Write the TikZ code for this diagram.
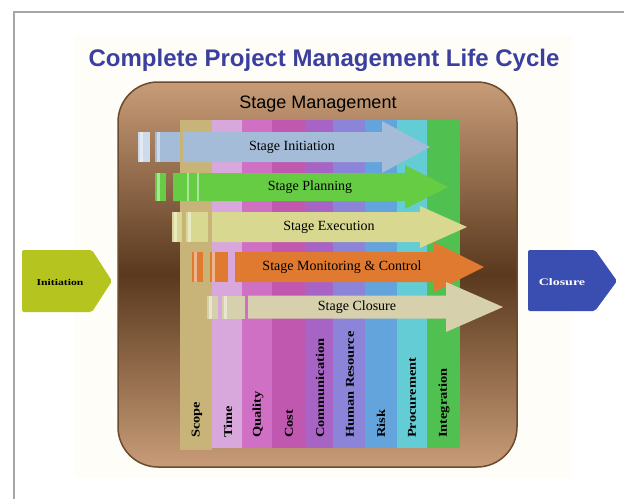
\documentclass[tikz,border=0pt]{standalone}
\usepackage{fontspec}
\setmainfont{Liberation Serif}
\setsansfont{Liberation Sans}
\definecolor{titleblue}{HTML}{3B3F9E}
\definecolor{tanc}{HTML}{C89C78}
\definecolor{brownd}{HTML}{5A391E}
\definecolor{brownb}{HTML}{6B4A2E}
\definecolor{ivory}{HTML}{FFFDF8}
\definecolor{cScope}{HTML}{C8B478}
\definecolor{cTime}{HTML}{D8A8DC}
\definecolor{cQuality}{HTML}{D070C4}
\definecolor{cCost}{HTML}{C058B0}
\definecolor{cComm}{HTML}{A864C4}
\definecolor{cHR}{HTML}{8C84D8}
\definecolor{cRisk}{HTML}{64A4DC}
\definecolor{cProc}{HTML}{64CCD4}
\definecolor{cInt}{HTML}{50C050}
\definecolor{cInit}{HTML}{A4BCD8}
\definecolor{cPlan}{HTML}{66CC44}
\definecolor{cExec}{HTML}{D8D890}
\definecolor{cMon}{HTML}{E07A30}
\definecolor{cClos}{HTML}{D6D0AC}
\definecolor{cLeft}{HTML}{B5C41E}
\definecolor{cRight}{HTML}{3A4DB0}
\tikzset{
  collabel/.style={rotate=90, anchor=west, inner sep=0pt,
    font=\bfseries\fontsize{12}{12}\selectfont},
  stagelabel/.style={font=\fontsize{14}{14}\selectfont, inner sep=0pt},
  piecehl/.style={fill=white, opacity=0.45},
}
\newcommand{\stagearrow}[7]{%
  % #1 color, #2 yc, #3 half body, #4 xstart, #5 head base, #6 tip, #7 head half
  \fill[#1] (#4,#2-#3) -- (#5,#2-#3) -- (#5,#2-#7) -- (#6,#2) -- (#5,#2+#7)
     -- (#5,#2+#3) -- (#4,#2+#3) -- cycle;
}
\newcommand{\stagepiece}[5]{%
  \fill[#1] (#2,#3) rectangle (#4,#5);
  \fill[piecehl] (#2+2,#3) rectangle (#2+4.5,#5);
}
\begin{document}
\begin{tikzpicture}[x=1pt,y=-1pt]
\useasboundingbox (0,0) rectangle (624,499);
\fill[white] (0,0) rectangle (624,499);
\fill[ivory] (75,35) rectangle (572,478);
\draw[gray!70, line width=1.2pt] (624,12) -- (14,12) -- (14,499);

\node[font=\sffamily\bfseries\fontsize{24}{24}\selectfont, text=titleblue] (title) at (324,60) {Complete Project Management Life Cycle};

% frame
\shade[top color=tanc, bottom color=tanc, middle color=brownd, rounded corners=40pt] (118,82) rectangle (517,467);
\draw[brownb, line width=1.5pt, rounded corners=40pt] (118,82) rectangle (517,467);
\node[font=\sffamily\fontsize{18}{18}\selectfont] (sm) at (318,104) {Stage Management};

% columns
\fill[cScope] (180,120) rectangle (212,450);
\fill[cTime] (212,120) rectangle (242,448);
\fill[cQuality] (242,120) rectangle (272,448);
\fill[cCost] (272,120) rectangle (305,448);
\fill[cComm] (305,120) rectangle (333,448);
\fill[cHR] (333,120) rectangle (365,448);
\fill[cRisk] (365,120) rectangle (397,448);
\fill[cProc] (397,120) rectangle (427,448);
\fill[cInt] (427,120) rectangle (460,448);

\node[collabel] (lscope) at (197,438) {\scalebox{1.2}[1]{Scope}};
\node[collabel] (ltime) at (228,438) {\scalebox{1.2}[1]{Time}};
\node[collabel] (lqual) at (258,438) {\scalebox{1.2}[1]{Quality}};
\node[collabel] (lcost) at (289,438) {\scalebox{1.2}[1]{Cost}};
\node[collabel] (lcomm) at (320,438) {\scalebox{1.2}[1]{Communication}};
\node[collabel] (lhr) at (350,438) {\scalebox{1.2}[1]{Human Resource}};
\node[collabel] (lrisk) at (381,438) {\scalebox{1.2}[1]{Risk}};
\node[collabel] (lproc) at (412,438) {\scalebox{1.2}[1]{Procurement}};
\node[collabel] (lint) at (444,438) {\scalebox{1.2}[1]{Integration}};

% stage arrows
\stagearrow{cInit}{147}{15}{183}{382}{430}{26}
\stagepiece{cInit!55!white}{138}{132}{150}{162}
\stagepiece{cInit}{155}{132}{180}{162}
\node[stagelabel] (s1) at (292,147) {Stage Initiation};

\stagearrow{cPlan}{187}{14}{173}{405}{448}{22}
\stagepiece{cPlan}{155}{173}{166}{201}
\fill[piecehl] (187,173) rectangle (189,201);
\fill[piecehl] (197,173) rectangle (199,201);
\node[stagelabel] (s2) at (310,187) {Stage Planning};

\stagearrow{cExec}{227}{15}{212}{420}{467}{21}
\stagepiece{cExec}{172}{212}{182}{242}
\stagepiece{cExec}{186}{212}{208}{242}
\node[stagelabel] (s3) at (329,227) {Stage Execution};

\stagearrow{cMon}{267}{15}{235}{434}{484}{25}
\stagepiece{cMon}{192}{252}{203}{282}
\stagepiece{cMon}{210}{252}{228}{282}
\node[stagelabel] (s4) at (342,267) {Stage Monitoring \& Control};

\stagearrow{cClos}{307}{11.5}{248}{446}{503}{25}
\stagepiece{cClos}{207}{296}{218}{319}
\stagepiece{cClos}{222}{296}{245}{319}
\node[stagelabel] (s5) at (357,307) {Stage Closure};

% side chevrons
\fill[cLeft, rounded corners=2pt] (22,250) -- (92,250) -- (112,281) -- (92,312) -- (22,312) -- cycle;
\node[font=\bfseries\fontsize{9}{9}\selectfont, inner sep=0pt] (init) at (60,282) {\scalebox{1.3}[1]{Initiation}};
\fill[cRight, rounded corners=2pt] (528,250) -- (595,250) -- (617,281) -- (595,311) -- (528,311) -- cycle;
\node[font=\bfseries\fontsize{10}{10}\selectfont, text=white, inner sep=0pt] (clos) at (562,282) {\scalebox{1.4}[1]{Closure}};
\end{tikzpicture}
\end{document}
